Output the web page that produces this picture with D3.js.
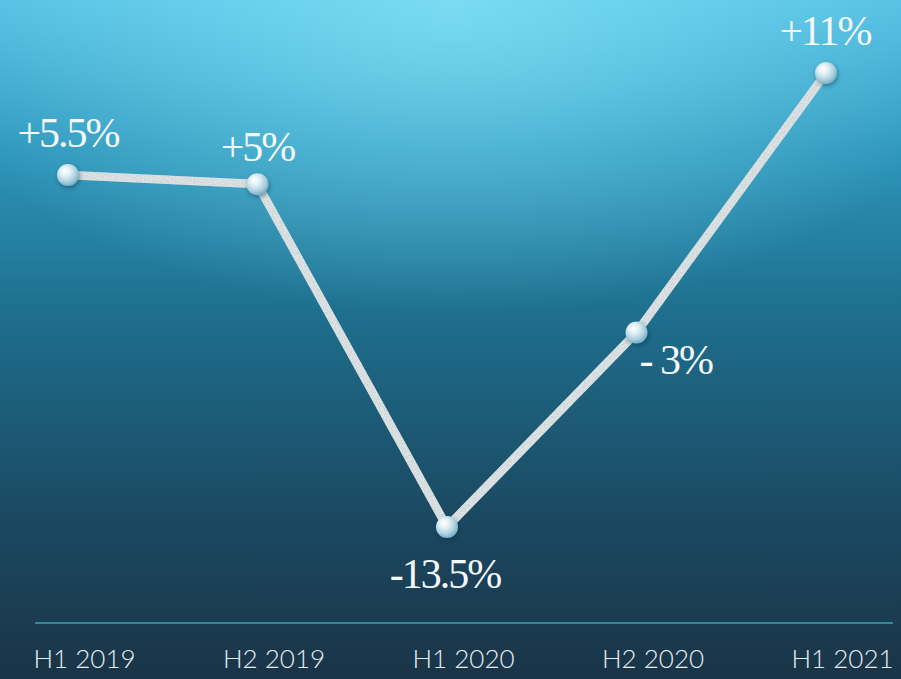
<!DOCTYPE html>
<html>
<head>
<meta charset="utf-8">
<script src="https://cdn.jsdelivr.net/npm/d3@7"></script>
<style>
  html, body { margin: 0; padding: 0; background: #1a3a4f; }
  svg { display: block; }
</style>
</head>
<body>
<svg id="chart" width="901" height="679"></svg>
<script>
// Half-year growth rates
const periods = ["H1 2019", "H2 2019", "H1 2020", "H2 2020", "H1 2021"];
const growth = [5.5, 5, -13.5, -3, 11];
const growthLabels = ["+5.5%", "+5%", "-13.5%", "- 3%", "+11%"];

const W = 901, H = 679;
const svg = d3.select("#chart");
const defs = svg.append("defs");

// Background: vertical teal fade with a bright glow at top centre
const bg = defs.append("linearGradient").attr("id", "bg").attr("x1", 0).attr("y1", 0).attr("x2", 0).attr("y2", 1);
[[0, "#52bde2"], [0.22, "#2d95bb"], [0.46, "#1e6f8e"], [0.75, "#1b4a63"], [1, "#1a3447"]]
  .forEach(([o, c]) => bg.append("stop").attr("offset", o).attr("stop-color", c));
const glow = defs.append("radialGradient").attr("id", "glow")
  .attr("cx", 0.5).attr("cy", 0).attr("r", 0.62).attr("fx", 0.5).attr("fy", 0)
  .attr("gradientTransform", "scale(1,0.75)");
glow.append("stop").attr("offset", 0).attr("stop-color", "#86e6f8").attr("stop-opacity", 0.75);
glow.append("stop").attr("offset", 1).attr("stop-color", "#86e6f8").attr("stop-opacity", 0);

svg.append("rect").attr("width", W).attr("height", H).attr("fill", "url(#bg)");
svg.append("rect").attr("width", W).attr("height", H).attr("fill", "url(#glow)");

// Marker sphere shading
const ball = defs.append("radialGradient").attr("id", "ball")
  .attr("cx", 0.42).attr("cy", 0.38).attr("r", 0.62).attr("fx", 0.35).attr("fy", 0.3);
[[0, "#ffffff"], [0.35, "#e4f1f5"], [0.75, "#a9d0df"], [1, "#7aaec3"]]
  .forEach(([o, c]) => ball.append("stop").attr("offset", o).attr("stop-color", c));

// Grainy texture for the line
const grain = defs.append("filter").attr("id", "grain").attr("x", "-5%").attr("y", "-5%").attr("width", "110%").attr("height", "110%");
grain.append("feTurbulence").attr("type", "fractalNoise").attr("baseFrequency", 0.9).attr("numOctaves", 2).attr("result", "noise");
grain.append("feColorMatrix").attr("in", "noise").attr("type", "matrix")
  .attr("values", "0 0 0 0 0.55  0 0 0 0 0.6  0 0 0 0 0.62  0 0 0 -2.2 1.35").attr("result", "dots");
grain.append("feComposite").attr("in", "dots").attr("in2", "SourceGraphic").attr("operator", "in").attr("result", "speck");
grain.append("feMerge").selectAll("feMergeNode").data(["SourceGraphic", "speck"]).enter()
  .append("feMergeNode").attr("in", d => d);

const shadow = defs.append("filter").attr("id", "shadow").attr("x", "-50%").attr("y", "-50%").attr("width", "200%").attr("height", "200%");
shadow.append("feDropShadow").attr("dx", 1).attr("dy", 2).attr("stdDeviation", 2)
  .attr("flood-color", "#0b2a38").attr("flood-opacity", 0.45);

// Scales
const x = d3.scalePoint().domain(periods).range([68, 826]);
const y = d3.scaleLinear().domain([-13.5, 11]).range([527, 73]);

const data = periods.map((p, i) => ({ p, v: growth[i], label: growthLabels[i] }));

// Baseline rule
svg.append("line")
  .attr("x1", 35).attr("x2", 893).attr("y1", 623).attr("y2", 623)
  .attr("stroke", "#2b8b98").attr("stroke-width", 2);

// Category axis
const axis = svg.append("g")
  .attr("transform", "translate(16,650)")
  .call(d3.axisBottom(x).tickSize(0).tickPadding(0));
axis.select(".domain").remove();
axis.selectAll("text")
  .attr("dy", "0.71em")
  .attr("font-family", "Lato, 'Open Sans', sans-serif")
  .attr("font-weight", 300)
  .attr("font-size", 26)
  .attr("fill", "#e6eef1");

// Line
const line = d3.line().x(d => x(d.p)).y(d => y(d.v));
svg.append("path").datum(data)
  .attr("d", line)
  .attr("fill", "none")
  .attr("stroke", "#dfe5e6")
  .attr("stroke-width", 8.5)
  .attr("stroke-linejoin", "round")
  .attr("filter", "url(#grain)");

// Markers
svg.append("g").selectAll("circle").data(data).enter().append("circle")
  .attr("cx", d => x(d.p)).attr("cy", d => y(d.v)).attr("r", 11)
  .attr("fill", "url(#ball)")
  .attr("filter", "url(#shadow)");

// Value labels
const offsets = {
  "H1 2019": { dx: 0, dy: -28, anchor: "middle" },
  "H2 2019": { dx: 0, dy: -23, anchor: "middle" },
  "H1 2020": { dx: -2, dy: 61, anchor: "middle" },
  "H2 2020": { dx: 3, dy: 42, anchor: "start" },
  "H1 2021": { dx: -1, dy: -28, anchor: "middle" }
};
svg.append("g").selectAll("text").data(data).enter().append("text")
  .attr("x", d => x(d.p) + offsets[d.p].dx)
  .attr("y", d => y(d.v) + offsets[d.p].dy)
  .attr("text-anchor", d => offsets[d.p].anchor)
  .attr("font-family", "'Liberation Serif', 'DejaVu Serif', serif")
  .attr("font-size", 42)
  .attr("letter-spacing", -2)
  .attr("fill", "#f4f9fb")
  .text(d => d.label);
</script>
</body>
</html>
